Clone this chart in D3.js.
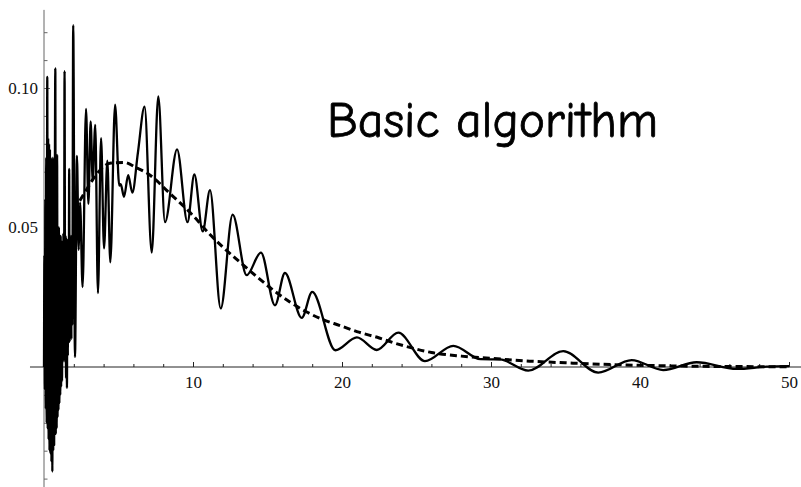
<!DOCTYPE html>
<html><head><meta charset="utf-8">
<script src="https://cdn.jsdelivr.net/npm/d3@7"></script>
<style>body{margin:0;background:#fff}svg{display:block}</style>
</head><body>
<script>
// Solid signal
const solidX = [0.00,0.03,0.06,0.09,0.12,0.15,0.18,0.22,0.25,0.28,0.31,0.34,0.37,0.40,0.43,0.46,0.50,0.53,0.56,0.59,0.62,0.65,0.68,0.72,0.76,0.79,0.82,0.85,0.88,0.91,0.94,0.97,1.00,1.03,1.06,1.09,1.12,1.15,1.18,1.21,1.24,1.27,1.30,1.34,1.38,1.42,1.45,1.48,1.51,1.54,1.57,1.60,1.63,1.66,1.69,1.72,1.75,1.78,1.81,1.84,1.87,1.90,1.96,2.08,2.21,2.33,2.42,2.59,2.82,2.98,3.13,3.27,3.44,3.62,3.83,4.03,4.25,4.45,4.77,5.05,5.15,5.37,5.65,5.93,6.30,6.75,7.23,7.67,8.12,8.93,9.63,10.09,10.65,11.14,11.86,12.66,13.60,14.56,15.50,16.17,17.30,18.00,19.55,21.00,22.33,23.78,25.57,27.47,29.30,30.60,32.50,34.85,37.20,39.44,41.56,43.80,46.50,48.50,50.00];
const solidY = [0.000,0.040,-0.008,0.060,-0.015,0.075,-0.020,0.104,-0.022,0.082,-0.026,0.080,-0.030,0.078,-0.031,0.075,-0.034,0.070,-0.0375,0.075,-0.030,0.050,-0.028,0.048,0.107,-0.024,0.050,-0.022,0.076,-0.018,0.048,-0.0154,0.050,-0.013,0.046,-0.010,0.047,-0.007,0.045,-0.005,0.040,0.005,0.048,0.002,0.106,0.007,0.047,-0.004,0.046,-0.0075,0.044,0.004,0.046,0.013,0.071,0.009,0.046,0.012,0.047,0.010,0.045,0.015,0.1225,0.0036,0.0757,0.042,0.059,0.0286,0.0925,0.0585,0.088,0.0668,0.0868,0.0265,0.082,0.0425,0.074,0.0375,0.094,0.065,0.0655,0.061,0.0688,0.0625,0.0767,0.0933,0.041,0.097,0.0519,0.078,0.0519,0.069,0.0486,0.0634,0.021,0.0546,0.0329,0.041,0.0221,0.0337,0.0176,0.0269,0.0060,0.0106,0.0061,0.0123,0.0021,0.0076,0.0028,0.0027,-0.0013,0.0057,-0.0020,0.0025,-0.0011,0.0017,-0.0007,0.0001,0.0003];
// Dashed smooth envelope
const envX = [2.4,2.9,3.3,3.8,4.5,5.4,6.2,7.0,7.6,8.25,8.9,9.5,10.1,11.1,12.0,13.1,14.3,15.4,16.5,17.6,18.7,19.9,21.0,22.5,23.7,25.0,26.0,28.0,30.0,32.6,35.0,37.3,40.0,42.0,45.0,50.0];
const envY = [0.0596,0.064,0.0674,0.0708,0.0731,0.0733,0.0714,0.0692,0.0666,0.0632,0.060,0.057,0.0537,0.0477,0.043,0.0378,0.0323,0.0275,0.0233,0.0198,0.017,0.0148,0.0127,0.0104,0.0083,0.0064,0.0052,0.0039,0.0031,0.0021,0.0015,0.0010,0.0006,0.0004,0.0002,0.0001];
// Ticks
const xTickValues = [10,20,30,40,50];
const xTickLabels = ["10","20","30","40","50"];
const xMinorTicks = [2,4,6,8,12,14,16,18,22,24,26,28,32,34,36,38,42,44,46,48];
const yTickValues = [0.05,0.10];
const yTickLabels = ["0.05","0.10"];
const yMinorTicks = [-0.04,-0.03,-0.02,-0.01,0.01,0.02,0.03,0.04,0.06,0.07,0.08,0.09,0.11,0.12];
const titleText = "Basic algorithm";

const W = 801, H = 487;
const svg = d3.select("body").append("svg").attr("width", W).attr("height", H);
const x = d3.scaleLinear().domain([0, 50]).range([44, 789]);
const y = d3.scaleLinear().domain([0, 0.1]).range([367, 88]);

// axis lines
svg.append("line").attr("x1", x(-0.94)).attr("x2", W)
  .attr("y1", y(0)).attr("y2", y(0)).attr("stroke", "#222").attr("stroke-width", 1);
svg.append("line").attr("x1", x(0)).attr("x2", x(0))
  .attr("y1", y(0.128)).attr("y2", H).attr("stroke", "#666").attr("stroke-width", 1);

const font = "'Liberation Serif','Times New Roman',serif";
function styleAxis(g, color) {
  g.select(".domain").remove();
  g.selectAll(".tick line").attr("stroke", color).attr("stroke-width", 1);
  g.selectAll(".tick text").attr("fill", "#111").style("font-family", font).style("font-size", "17px");
}
// x axis
svg.append("g").attr("transform", `translate(0,${y(0)})`)
  .call(d3.axisBottom(x).tickValues(xMinorTicks).tickFormat("").tickSizeInner(-3).tickSizeOuter(0))
  .call(g => styleAxis(g, "#222"));
svg.append("g").attr("transform", `translate(0,${y(0)})`)
  .call(d3.axisBottom(x).tickValues(xTickValues).tickFormat((d, i) => xTickLabels[i]).tickSizeInner(-5).tickSizeOuter(0).tickPadding(9))
  .call(g => styleAxis(g, "#222"));
// y axis
svg.append("g").attr("transform", `translate(${x(0)},0)`)
  .call(d3.axisLeft(y).tickValues(yMinorTicks).tickFormat("").tickSizeInner(-3.5).tickSizeOuter(0))
  .call(g => styleAxis(g, "#666"));
svg.append("g").attr("transform", `translate(${x(0)},0)`)
  .call(d3.axisLeft(y).tickValues(yTickValues).tickFormat((d, i) => yTickLabels[i]).tickSizeInner(-6).tickSizeOuter(0).tickPadding(6))
  .call(g => styleAxis(g, "#666"));

// curves
const solid = solidX.map((d, i) => [d, solidY[i]]);
const env = envX.map((d, i) => [d, envY[i]]);
const line = d3.line().x(d => x(d[0])).y(d => y(d[1])).curve(d3.curveMonotoneX);
svg.append("path").datum(solid).attr("d", line)
  .attr("fill", "none").attr("stroke", "#000").attr("stroke-width", 2.3).attr("stroke-linejoin", "round");
svg.append("path").datum(env).attr("d", line)
  .attr("fill", "none").attr("stroke", "#000").attr("stroke-width", 3).attr("stroke-dasharray", "7,4");

// title
svg.append("text").attr("x", 327).attr("y", 137)
  .attr("textLength", 331).attr("lengthAdjust", "spacingAndGlyphs")
  .style("font-family", "'Comic Sans MS','Comic Neue','Noto Sans',sans-serif")
  .style("font-size", "50px").attr("fill", "#000")
  .attr("stroke", "#000").attr("stroke-width", 0.8)
  .text(titleText);
</script>
</body></html>
